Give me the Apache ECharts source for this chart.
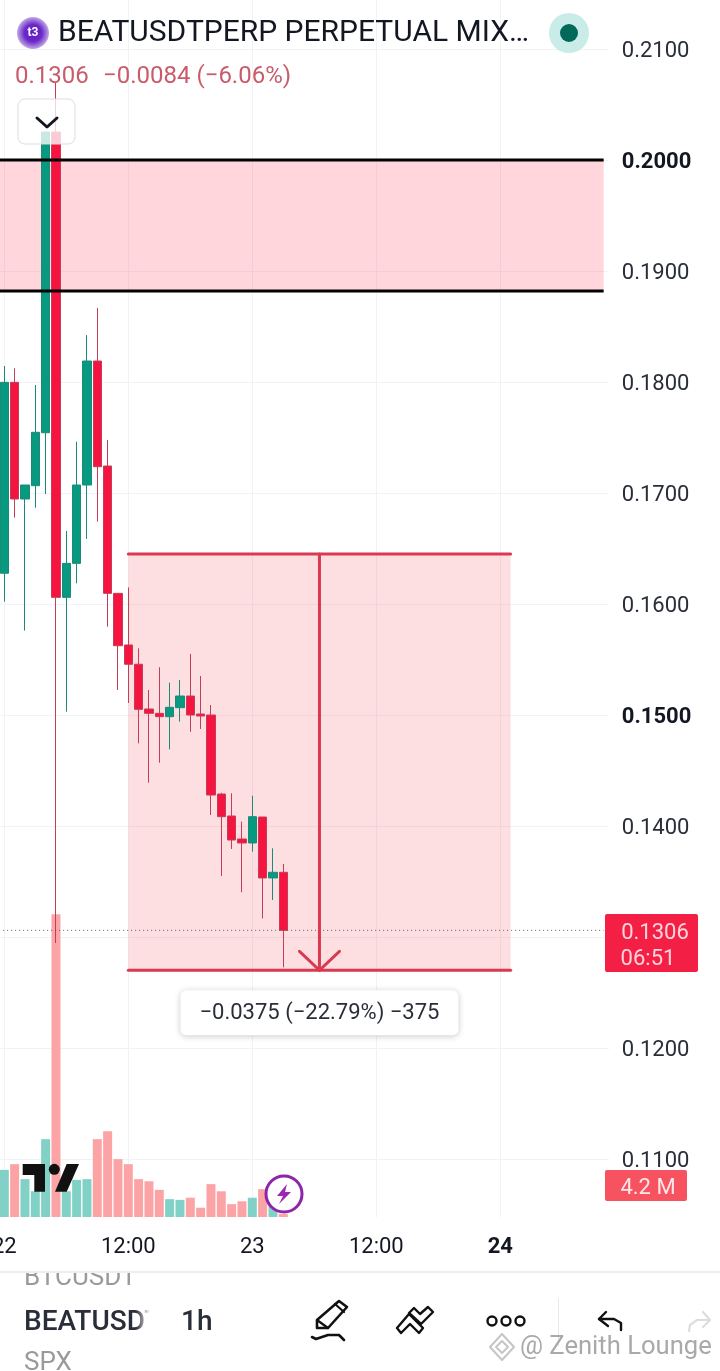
<!DOCTYPE html>
<html><head><meta charset="utf-8">
<style>html,body{margin:0;padding:0;background:#fff}#c{width:720px;height:1371px}</style>
<script src="https://cdn.jsdelivr.net/npm/echarts@6/dist/echarts.min.js"></script>
</head><body><div id="c"></div>
<script>
const categories=["22","01:00","02:00","03:00","04:00","05:00","06:00","07:00","08:00","09:00","10:00","11:00","12:00","13:00","14:00","15:00","16:00","17:00","18:00","19:00","20:00","21:00","22:00","23:00","23","01:00","02:00","03:00","04:00","05:00","06:00","07:00","08:00","09:00","10:00","11:00","12:00","13:00","14:00","15:00","16:00","17:00","18:00","19:00","20:00","21:00","22:00","23:00","24","01:00","02:00","03:00","04:00","05:00","06:00","07:00","08:00","09:00","10:00"];
const opens =[0.16277,0.17997,0.16946,0.17066,0.17543,0.20252,0.16060,0.16366,0.17072,0.18189,0.17243,0.16096,0.15631,0.15457,0.15054,0.15015,0.14985,0.15066,0.15171,0.15009,0.15000,0.14288,0.14090,0.13883,0.13847,0.14081,0.13532,0.13583];
const closes=[0.17997,0.16946,0.17072,0.17547,0.20252,0.16060,0.16366,0.17072,0.18189,0.17237,0.16096,0.15624,0.15457,0.15051,0.15015,0.14985,0.15069,0.15171,0.15000,0.14991,0.14279,0.14084,0.13874,0.13847,0.14084,0.13532,0.13583,0.13060];
const lows  =[0.16021,0.16778,0.15760,0.16868,0.16991,0.12946,0.15030,0.16186,0.16586,0.16742,0.15796,0.15225,0.15108,0.14745,0.14390,0.14570,0.14691,0.14940,0.14849,0.14874,0.14099,0.13550,0.13793,0.13403,0.13769,0.13168,0.13333,0.12727];
const highs =[0.18144,0.18123,0.17072,0.17973,0.20252,0.20694,0.16658,0.17462,0.18423,0.18667,0.17477,0.16096,0.16150,0.15601,0.15225,0.15430,0.15291,0.15315,0.15550,0.15351,0.15090,0.14300,0.14295,0.14039,0.14273,0.14081,0.13799,0.13658];
const volumesM=[66,74,53,36,109,424,36,52,53,109,120,81,74,53,50,38,25,24,27,13,46,36,18,22,27,39,18,4.2];
const yTickMin=0.10, yTickMax=0.22, yTickStep=0.01;
const boldTicks=["0.2000","0.1500"];
const zonePrices=[0.2000,0.1882];
const measurePrices=[0.1645,0.1270];
const lastPrice=0.1306;
const measureText="−0.0375 (−22.79%) −375";
const RED='#f4143f',GREEN='#089981',WRED='#c63d58',WGREEN='#1c8a78';
const FONT='Roboto';
const INK='#131722';

const candleData=opens.map((o,i)=>[o,closes[i],lows[i],highs[i]]);
const volData=volumesM.map((v,i)=>({value:v,itemStyle:{color:closes[i]>=opens[i]?'#82d1c6':'#fca3a6'}}));

function t(text,x,y,size,fill,extra){return {type:'text',z:120,style:{text,x,y:y+2,font:`${(extra&&extra.weight)||400} ${size}px ${FONT}`,fill,align:(extra&&extra.align)||'left',verticalAlign:'middle'}};}
function pl(points,stroke,w,z){return {type:'polyline',z:z||120,shape:{points},style:{stroke,fill:null,lineWidth:w,lineCap:'round',lineJoin:'round'}};}
function pg(points,fill,z){return {type:'polygon',z:z||120,shape:{points},style:{fill}};}
function ci(cx,cy,r,style,z){return {type:'circle',z:z||120,shape:{cx,cy,r},style};}
function re(x,y,width,height,style,r,z){return {type:'rect',z:z||120,shape:{x,y,width,height,r:r||0},style};}

const graphics=[
 ci(33,33,16,{fill:{type:'radial',x:.5,y:.5,r:.5,colorStops:[{offset:0,color:'#5b12c9'},{offset:.55,color:'#6d2ac8'},{offset:1,color:'#c0a9e6'}]}}),
 t('t3',33,31,12,'#fff',{weight:700,align:'center'}),
 t('BEATUSDTPERP PERPETUAL MIX…',58,31,30,INK),
 ci(569,33,20,{fill:'#c9ece8'}),
 ci(569,33,9,{fill:'#00695a'}),
 t('0.1306',15,75,24,'#c95c6a'),
 t('−0.0084 (−6.06%)',103,75,24,'#c95c6a'),
 re(18,99,57,45,{fill:'rgba(255,255,255,.78)',stroke:'#dcdde0',lineWidth:1},7),
 pl([[37,118],[47,127],[57,118]],'#131722',3),
 pg([[22.7,1164],[45,1164],[45,1191.7],[34.3,1191.7],[34.3,1175],[22.7,1175]],'#111'),
 ci(54.3,1169.3,5.5,{fill:'#111'}),
 pg([[66.7,1164],[79,1164],[66.7,1191.7],[55,1191.7]],'#111'),
 ci(284,1194,18,{fill:'#fff',stroke:'#8e24aa',lineWidth:3}),
 pg([[287,1184],[277,1196],[283,1196],[279,1204],[291,1192],[285,1192]],'#9c27b0'),
 re(605,914,93,58,{fill:'#f41f44'},2,110),
 t('0.1306',655,931,22,'#ffd4da',{align:'center'}),
 t('06:51',648,957,22,'#ffd4da',{align:'center'}),
 re(605,1170,82,31,{fill:'#f7525f'},2,110),
 t('4.2 M',648,1186,22,'#ffe6e8',{align:'center'}),
 re(0,1271,720,100,{fill:'#fff'},0,100),
 t('BTCUSDT',24,1276,26,'#9a9a9a'),
 re(0,1258,720,14,{fill:'#fff'},0,121),
 re(0,1271,720,2,{fill:'#eeeeee'},0,122),
 t('BEATUSDTPERP',24,1321,28,'#2a2e39',{weight:500}),
 t('SPX',24,1361,26,'#9a9a9a'),
 re(150,1273,145,97,{fill:'#fff'},0,121),
 re(136,1273,14,97,{fill:{type:'linear',x:0,y:0,x2:1,y2:0,colorStops:[{offset:0,color:'rgba(255,255,255,0)'},{offset:1,color:'#fff'}]}},0,121),
 Object.assign(t('1h',181,1321,28,'#2a2e39',{weight:500}),{z:122}),
 pl([[317,1320],[339,1301],[347,1307],[328,1328],[317,1328],[317,1320]],'#111',2.6),
 pl([[317,1320],[328,1328]],'#111',2.2),
 pl([[335,1304],[344,1312]],'#111',2.2),
 pl([[312,1337],[316,1339],[328,1335],[339,1335],[344,1340]],'#111',2.6),
 pl([[397,1328],[401,1333],[410,1324],[419,1333],[423,1328],[413,1318],[409,1314],[397,1328]],'#111',2.4),
 pl([[409,1313],[414,1308],[420,1314],[428,1307],[433,1312],[421,1324],[409,1313]],'#111',2.4),
 ci(492,1321,4.5,{fill:'none',stroke:'#111',lineWidth:2.4}),
 ci(506,1321,4.5,{fill:'none',stroke:'#111',lineWidth:2.4}),
 ci(520,1321,4.5,{fill:'none',stroke:'#111',lineWidth:2.4}),
 re(558,1298,1,48,{fill:'#e8e8e8'}),
 pl([[606,1312],[599,1319],[608,1326]],'#111',2.4),
 pl([[599,1319],[614,1319],[621,1323],[621,1330]],'#111',2.4),
 pl([[703,1312],[710,1320]],'#dddddd',2.2),
 pl([[689,1331],[690,1325],[697,1320],[710,1320],[703,1327]],'#dddddd',2.2),
 pl([[502,1334],[514,1347],[502,1360],[490,1347],[502,1334]],'#c6c6c6',2),
 pl([[496,1347],[502,1341],[508,1347],[502,1353],[496,1347]],'#c6c6c6',2),
 t('@ Zenith Lounge',520,1346,25.6,'#a9a9a9')
];

function zoneItem(params,api){
  const half=api.size([1,0])[0]/2;
  const a=api.coord([api.value(0),api.value(2)]),b=api.coord([api.value(1),api.value(3)]);
  return {type:'rect',shape:{x:a[0]-half,y:a[1],width:b[0]-a[0]+half,height:b[1]-a[1]},style:{fill:'rgba(255,70,90,.22)'}};
}
function zoneLines(params,api){
  const half=api.size([1,0])[0]/2;
  const a=api.coord([api.value(0),api.value(2)]),b=api.coord([api.value(1),api.value(3)]);
  const st={stroke:'#000',lineWidth:3};
  return {type:'group',children:[
    {type:'line',shape:{x1:a[0]-half,y1:a[1],x2:b[0],y2:a[1]},style:st},
    {type:'line',shape:{x1:a[0]-half,y1:b[1],x2:b[0],y2:b[1]},style:st}]};
}
function measureFill(params,api){
  const a=api.coord([api.value(0),api.value(2)]),b=api.coord([api.value(1),api.value(3)]);
  return {type:'rect',shape:{x:a[0],y:a[1],width:b[0]-a[0],height:b[1]-a[1]},style:{fill:'rgba(245,60,80,.17)'}};
}
function measureLines(params,api){
  const a=api.coord([api.value(0),api.value(2)]),b=api.coord([api.value(1),api.value(3)]);
  const cx=(a[0]+b[0])/2,c='#d93a50';
  const st={stroke:c,lineWidth:3,lineCap:'round',fill:null};
  return {type:'group',children:[
    {type:'line',shape:{x1:a[0],y1:a[1],x2:b[0],y2:a[1]},style:st},
    {type:'line',shape:{x1:a[0],y1:b[1],x2:b[0],y2:b[1]},style:st},
    {type:'line',shape:{x1:cx,y1:a[1],x2:cx,y2:b[1]},style:st},
    {type:'polyline',shape:{points:[[cx-20,b[1]-19],[cx,b[1]],[cx+20,b[1]-19]]},style:st},
    {type:'rect',shape:{x:cx-139,y:b[1]+20,width:278,height:45,r:6},style:{fill:'#fff',shadowBlur:6,shadowColor:'rgba(0,0,0,.22)',shadowOffsetY:1}},
    {type:'text',style:{text:measureText,x:cx,y:b[1]+43,align:'center',verticalAlign:'middle',font:`400 22px ${FONT}`,fill:'#2a2e39'}}
  ]};
}
function lastLine(params,api){
  const half=api.size([1,0])[0]/2;
  const a=api.coord([api.value(0),api.value(2)]),b=api.coord([api.value(1),api.value(2)]);
  return {type:'line',shape:{x1:a[0]-half,y1:a[1],x2:b[0],y2:b[1]},style:{stroke:'#5a5e69',lineWidth:1,lineDash:[1,3]}};
}

const GL=-0.87,GW=609.67;
const option={
 animation:false,backgroundColor:'#fff',textStyle:{fontFamily:FONT},
 grid:[
  {left:GL,width:GW,top:-62,height:1332,outerBoundsMode:'none'},
  {left:GL,width:GW,top:0,height:1217,outerBoundsMode:'none'}
 ],
 xAxis:[
  {type:'category',gridIndex:0,data:categories,axisLine:{show:false},axisTick:{show:false},axisLabel:{show:false},splitLine:{show:false}},
  {type:'category',gridIndex:1,data:categories,axisLine:{show:false},axisTick:{show:false,alignWithLabel:true},
   splitLine:{show:true,interval:11,alignWithLabel:true,lineStyle:{color:'#f1f2f5',width:1}},
   axisLabel:{interval:11,margin:19,fontSize:22,color:INK,fontFamily:FONT,hideOverlap:false,showMinLabel:true,
     formatter:v=>v==='24'?'{b|24}':v,rich:{b:{fontSize:22,fontWeight:700,color:INK,fontFamily:FONT}}}}
 ],
 yAxis:[
  {type:'value',gridIndex:0,position:'right',min:yTickMin,max:yTickMax,interval:yTickStep,scale:true,
   axisLine:{show:false},axisTick:{show:false},
   splitLine:{show:true,lineStyle:{color:'#f1f2f5',width:1}},
   axisLabel:{margin:13,align:'left',padding:[4,0,0,0],fontSize:22,color:'#2a2e39',fontFamily:FONT,showMinLabel:false,showMaxLabel:false,
     formatter:v=>{const s=v.toFixed(4);return boldTicks.includes(s)?`{b|${s}}`:s;},
     rich:{b:{fontSize:22,fontWeight:700,color:'#131722',fontFamily:FONT}}}},
  {type:'value',gridIndex:1,min:0,max:1704,show:false,splitLine:{show:false}}
 ],
 series:[
  {type:'custom',name:'zoneFill',xAxisIndex:0,yAxisIndex:0,z:1,renderItem:zoneItem,data:[[0,58,zonePrices[0],zonePrices[1]]],clip:false,silent:true},
  {type:'custom',name:'measureFill',xAxisIndex:0,yAxisIndex:0,z:1,renderItem:measureFill,data:[[12,49,measurePrices[0],measurePrices[1]]],clip:false,silent:true},
  {type:'bar',name:'Volume',xAxisIndex:1,yAxisIndex:1,z:2,barWidth:9,data:volData,silent:true},
  {type:'candlestick',name:'BEATUSDTPERP',xAxisIndex:0,yAxisIndex:0,z:3,barWidth:9,data:candleData,
   itemStyle:{color:GREEN,color0:RED,borderColor:WGREEN,borderColor0:WRED,borderWidth:1},silent:true},
  {type:'custom',name:'lastPrice',xAxisIndex:0,yAxisIndex:0,z:4,renderItem:lastLine,data:[[0,58,lastPrice]],clip:false,silent:true},
  {type:'custom',name:'zoneLines',xAxisIndex:0,yAxisIndex:0,z:5,renderItem:zoneLines,data:[[0,58,zonePrices[0],zonePrices[1]]],clip:false,silent:true},
  {type:'custom',name:'measureLines',xAxisIndex:0,yAxisIndex:0,z:5,renderItem:measureLines,data:[[12,49,measurePrices[0],measurePrices[1]]],clip:false,silent:true}
 ],
 graphic:{elements:graphics}
};
const chart=echarts.init(document.getElementById('c'),null,{renderer:'canvas',width:720,height:1371});
chart.setOption(option);
</script></body></html>
